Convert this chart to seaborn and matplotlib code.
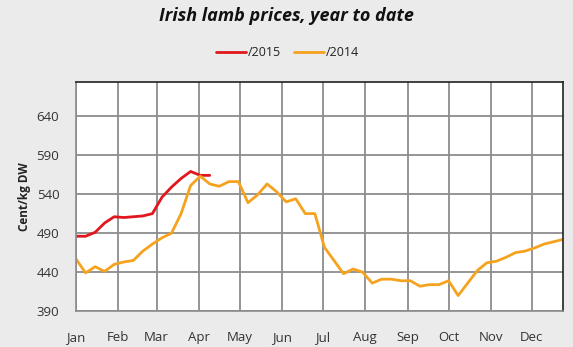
import matplotlib
matplotlib.use("Agg")
import matplotlib.pyplot as plt
import seaborn as sns
import numpy as np
import pandas as pd
from matplotlib.lines import Line2D

# Weekly prices (cent/kg DW)
prices_2015 = [486, 486, 491, 503, 511, 510, 511, 512, 515, 536, 549, 560, 569, 564, 564]
prices_2014 = [457, 439, 447, 441, 450, 453, 455, 467, 476, 484, 490, 515, 551, 563,
               553, 550, 556, 556, 529, 539, 553, 543, 530, 534, 515, 515, 472, 455,
               438, 444, 440, 426, 431, 431, 429, 429, 422, 424, 424, 429, 410, 426,
               442, 452, 454, 459, 465, 467, 471, 476, 479, 482]
month_labels = ["Jan", "Feb", "Mar", "Apr", "May", "Jun", "Jul", "Aug", "Sep", "Oct", "Nov", "Dec"]
month_start_days = [0, 31, 59, 90, 120, 151, 181, 212, 243, 273, 304, 334]
y_ticks = [390, 440, 490, 540, 590, 640]

df = pd.concat([
    pd.DataFrame({"day": [7 * i for i in range(len(prices_2015))], "price": prices_2015, "year": "/2015"}),
    pd.DataFrame({"day": [7 * i for i in range(len(prices_2014))], "price": prices_2014, "year": "/2014"}),
])

sns.set_theme(style="white")
plt.rcParams['font.family'] = ['Open Sans', 'DejaVu Sans']

fig = plt.figure(figsize=(5.73, 3.47), dpi=100)
fig.patch.set_facecolor("#ebebeb")
ax = fig.add_axes([0.1326, 0.1032, 0.8504, 0.6614])
ax.set_facecolor("white")

palette = {"/2015": "#e2161d", "/2014": "#f5a31f"}
sns.lineplot(data=df, x="day", y="price", hue="year", palette=palette, ax=ax,
             linewidth=2.0, legend=False)

ax.set_xlim(0, 357)
ax.set_ylim(390, 684)
ax.set_xticks(month_start_days)
ax.set_xticklabels(month_labels)
ax.set_yticks(y_ticks)
ax.grid(True, color="#8c8c8c", linewidth=1.3)
ax.set_axisbelow(True)
for s in ax.spines.values():
    s.set_color("#222222")
    s.set_linewidth(1.2)
ax.spines["left"].set_color("#8c8c8c")
ax.spines["bottom"].set_color("#8c8c8c")
ax.tick_params(axis="both", which="both", length=4, width=1.2, color="#8c8c8c",
               labelsize=9.5, labelcolor="#333333", direction="out", pad=8)
ax.tick_params(axis="x", pad=10)
ax.set_xlabel("")
ax.set_ylabel("Cent/kg DW", fontsize=8.5, fontweight="bold", color="#222222", labelpad=4)

fig.text(0.5, 0.953, "Irish lamb prices, year to date", ha="center", va="center",
         fontsize=13, fontstyle="italic", fontweight="bold", color="#111111")

handles = [Line2D([0], [0], color=palette["/2015"], lw=2),
           Line2D([0], [0], color=palette["/2014"], lw=2)]
fig.legend(handles, ["/2015", "/2014"], loc="center", bbox_to_anchor=(0.502, 0.848),
           ncol=2, frameon=False, fontsize=9, handlelength=2.4, handletextpad=0.2,
           columnspacing=1.0, labelcolor="#222222")

fig.savefig("out.png", dpi=100, facecolor=fig.get_facecolor())
